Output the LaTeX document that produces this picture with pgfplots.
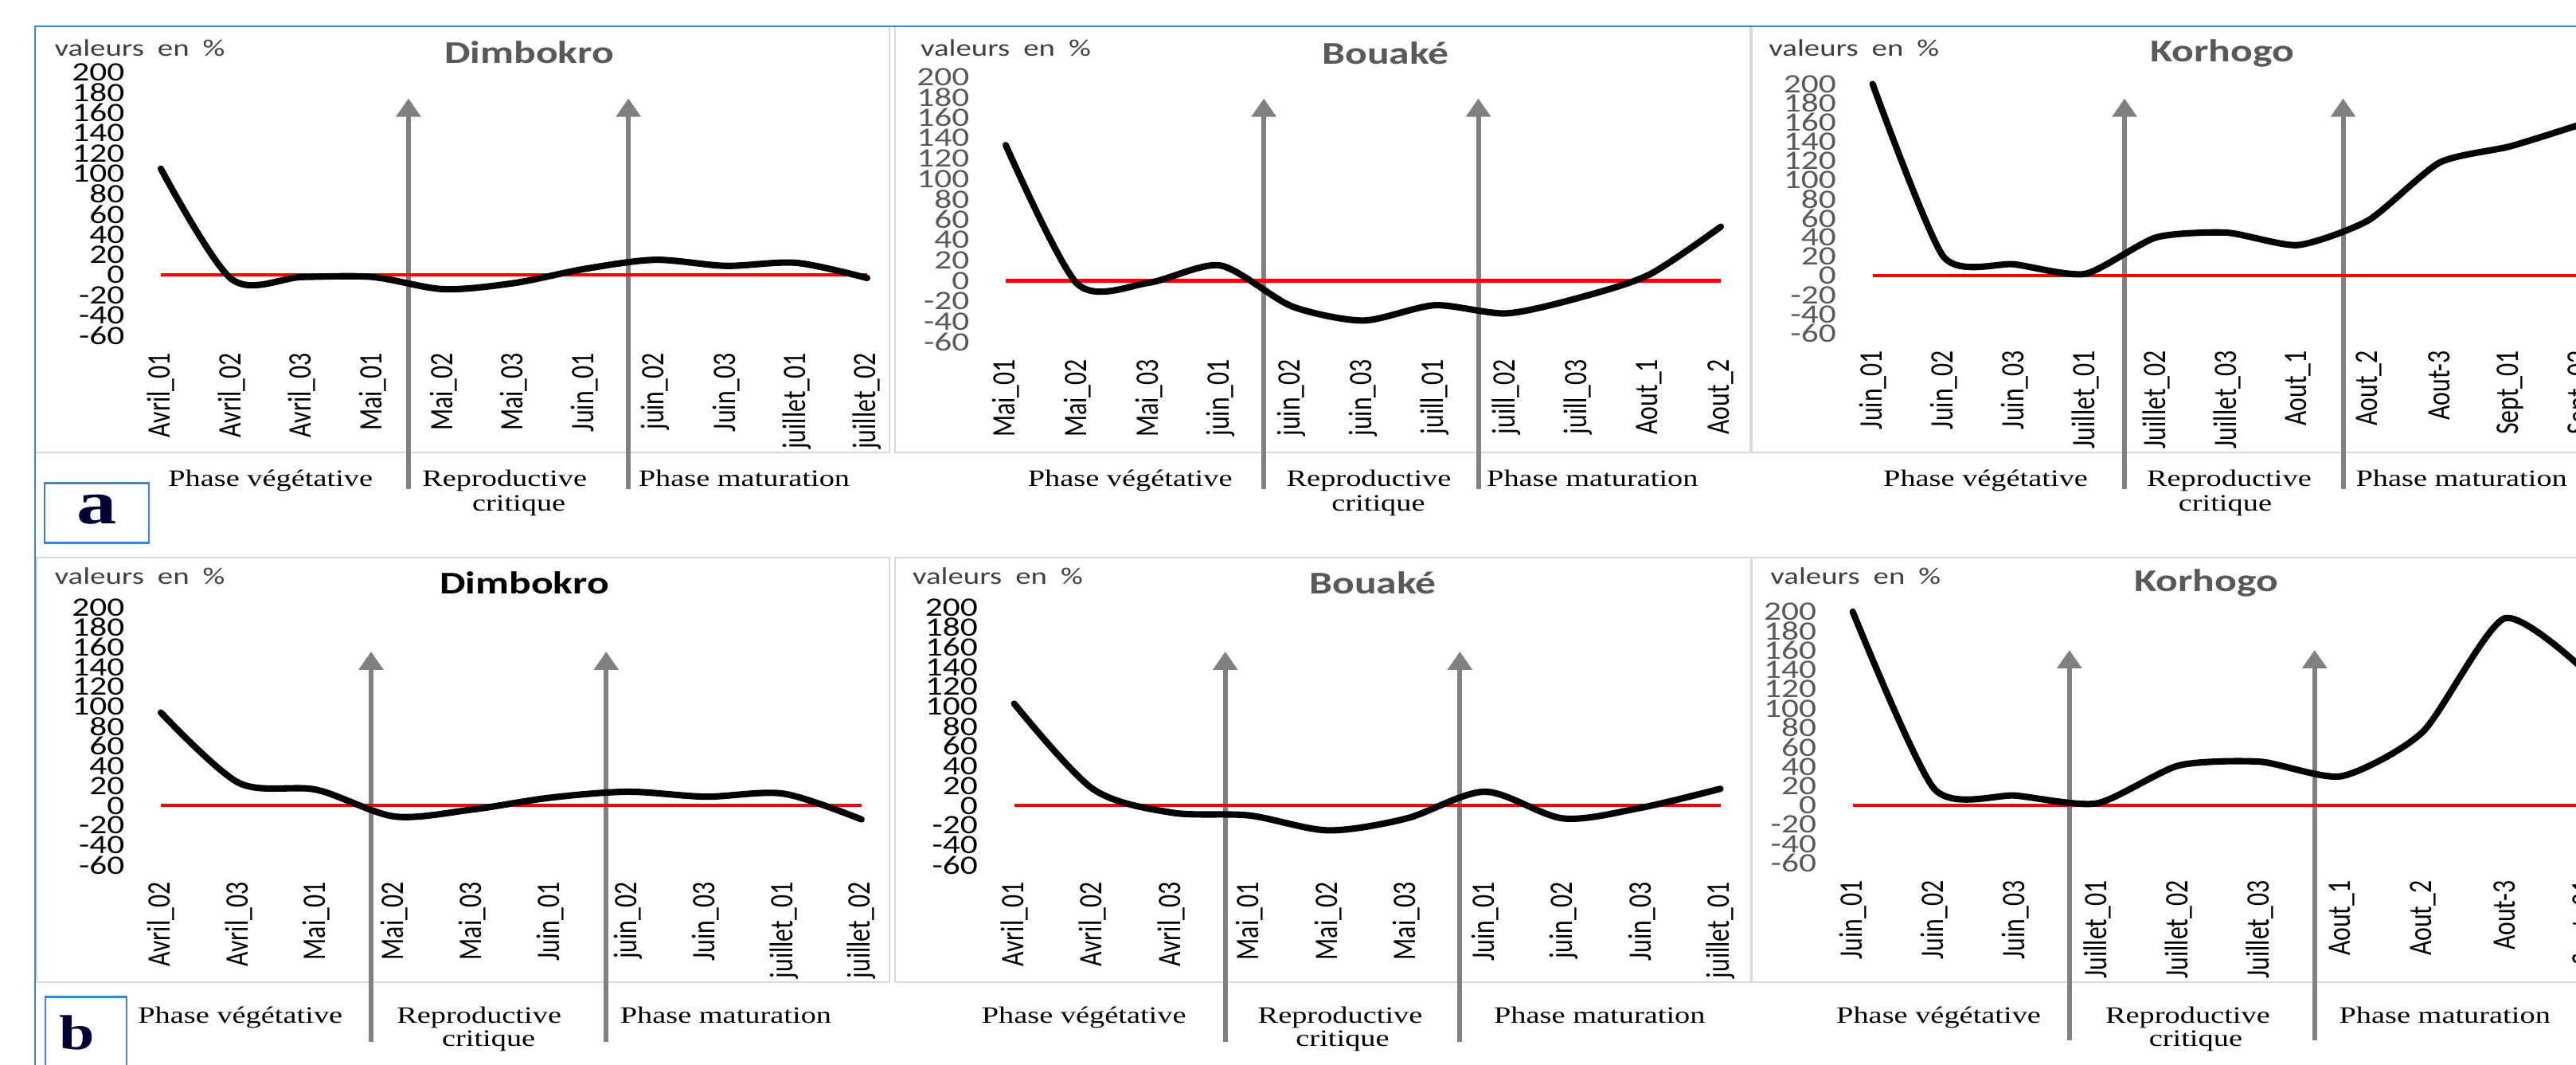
\documentclass[border=0pt]{standalone}
\usepackage{fontspec}
\setmainfont{Carlito}
\newfontfamily\calw[FakeStretch=1.3]{Carlito}
\newfontfamily\calr[FakeStretch=0.77]{Carlito}
\newfontfamily\timw[FakeStretch=1.3]{Liberation Serif}
\usepackage{pgfplots}
\pgfplotsset{compat=1.18}
\usetikzlibrary{arrows.meta}
\definecolor{tgray}{HTML}{595959}
\definecolor{lgray}{HTML}{404040}
\definecolor{boxgray}{HTML}{D9D9D9}
\definecolor{arrgray}{HTML}{808080}
\definecolor{frameblue}{HTML}{3A87CF}
\tikzset{
  phasearrow/.style={draw=arrgray, line width=1.7pt, -{Triangle[width=0.30cm,length=0.23cm]}},
  curve/.style={black, line width=2.3pt, smooth, tension=0.5, line join=round, line cap=round},
  zero/.style={red, line width=1.2pt},
}
\pgfplotsset{
  panel/.style={
    scale only axis, anchor=south west, clip=false,
    xmin=0, ymin=-60, ymax=200, enlargelimits=false,
    axis line style={draw=none}, tick style={draw=none},
    ytick={-60,-40,...,200},
    /pgf/number format/assume math mode=true,
    yticklabel style={anchor=east, inner sep=0pt, font=\calw\fontsize{9.5}{9.5}\selectfont},
    xticklabel style={rotate=90, anchor=east, inner sep=0pt, font=\calr\fontsize{11.75}{11.75}\selectfont, text=black},
    xticklabel shift=0.21cm, yticklabel shift=0.45cm,
  },
}
\newcommand{\tfont}{\calw\bfseries\fontsize{11.3}{11.3}\selectfont}
\newcommand{\vfont}{\calw\fontsize{8.5}{8.5}\selectfont}
\newcommand{\pfont}{\timw\fontsize{8.4}{8.4}\selectfont}
\begin{document}
\begin{tikzpicture}
\useasboundingbox (0,0) rectangle (32.35cm,13.36cm);
\clip (0,0) rectangle (32.35cm,13.36cm);
\fill[white] (0,0) rectangle (32.35cm,13.36cm);
\begin{scope}[shift={(0cm,13.36cm)}, x=0.01cm, y=-0.01cm]
  \begin{scope}[draw=boxgray, line width=0.6pt]
    \draw (44,33) rectangle (1118,568);
    \draw (1125,33) rectangle (2199,568);
    \draw (2201,33) rectangle (3300,568);
    \draw (46,700) rectangle (1118,1234);
    \draw (1125,700) rectangle (2200,1234);
    \draw (2201,700) rectangle (3300,1234);
  \end{scope}
  \draw[frameblue, line width=0.8pt] (44,1400) -- (44,33) -- (3300,33);
  \draw[frameblue, line width=0.7pt] (56,607) rectangle (187,682);
  \draw[frameblue, line width=0.7pt] (57,1252) rectangle (159,1345);
  \node[inner sep=0pt, font=\timw\bfseries\fontsize{22}{22}\selectfont, text=black!80!blue] at (121.5,640) {a};
  \node[inner sep=0pt, font=\timw\bfseries\fontsize{17.5}{17.5}\selectfont, text=black!80!blue] at (96.5,1297) {b};
\end{scope}

% ---------- A1 Dimbokro (top)
\begin{axis}[panel, at={(2.02cm,9.145cm)}, width=8.87cm, height=3.305cm, xmax=10,
  xtick={0,...,10},
  xticklabels={Avril\_01,Avril\_02,Avril\_03,Mai\_01,Mai\_02,Mai\_03,Juin\_01,juin\_02,Juin\_03,juillet\_01,juillet\_02},
  yticklabel style={text=black}]
  \draw[phasearrow] (axis cs:3.506,-211.1) -- (axis cs:3.506,174.4);
  \draw[phasearrow] (axis cs:6.62,-211.1) -- (axis cs:6.62,174.4);
  \addplot[zero] coordinates {(0,0) (10,0)};
  \addplot[curve] coordinates {(0,105) (1,-4) (2,-2) (3,-2) (4,-14) (5,-8) (6,6) (7,15) (8,9) (9,12) (10,-3)};
\end{axis}

% ---------- A2 Bouake (top)
\begin{axis}[panel, at={(12.63cm,9.067cm)}, width=8.98cm, height=3.33cm, xmax=10,
  xtick={0,...,10},
  xticklabels={Mai\_01,Mai\_02,Mai\_03,juin\_01,juin\_02,juin\_03,juill\_01,juill\_02,juill\_03,Aout\_1,Aout\_2},
  yticklabel style={text=tgray}]
  \draw[phasearrow] (axis cs:3.61,-203.9) -- (axis cs:3.61,178.7);
  \draw[phasearrow] (axis cs:6.61,-203.9) -- (axis cs:6.61,178.7);
  \addplot[zero] coordinates {(0,0) (10,0)};
  \addplot[curve, tension=0.45] coordinates {(0,133) (1,-3) (2,-2) (3,15) (4,-25) (5,-39) (6,-24) (7,-32) (8,-17) (9,6) (10,53)};
\end{axis}

% ---------- A3 Korhogo (top)
\begin{axis}[panel, at={(23.516cm,9.175cm)}, width=8.90cm, height=3.131cm, xmax=10,
  xtick={0,...,10},
  xticklabels={Juin\_01,Juin\_02,Juin\_03,Juillet\_01,Juillet\_02,Juillet\_03,Aout\_1,Aout\_2,Aout-3,Sept\_01,Sept\_02},
  yticklabel style={text=tgray}]
  \draw[phasearrow] (axis cs:3.555,-222) -- (axis cs:3.555,184.9);
  \draw[phasearrow] (axis cs:6.64,-222) -- (axis cs:6.64,184.9);
  \addplot[zero] coordinates {(0,0) (10,0)};
  \addplot[curve, tension=0.38] coordinates {(0,200) (1,20) (2,12) (3,2) (4,40) (5,45) (6,32) (7,58) (8,118) (9,135) (10,158)};
\end{axis}

% ---------- B1 Dimbokro (bottom)
\begin{axis}[panel, at={(2.02cm,2.501cm)}, width=8.80cm, height=3.231cm, xmax=9,
  xtick={0,...,9},
  xticklabels={Avril\_02,Avril\_03,Mai\_01,Mai\_02,Mai\_03,Juin\_01,juin\_02,Juin\_03,juillet\_01,juillet\_02},
  yticklabel style={text=black}]
  \draw[phasearrow] (axis cs:2.70,-238.4) -- (axis cs:2.70,155.6);
  \draw[phasearrow] (axis cs:5.72,-238.4) -- (axis cs:5.72,155.6);
  \addplot[zero] coordinates {(0,0) (9,0)};
  \addplot[curve] coordinates {(0,94) (1,23) (2,16) (3,-11) (4,-4) (5,8) (6,14) (7,9) (8,12) (9,-14)};
\end{axis}

% ---------- B2 Bouake (bottom)
\begin{axis}[panel, at={(12.736cm,2.501cm)}, width=8.87cm, height=3.231cm, xmax=9,
  xtick={0,...,9},
  xticklabels={Avril\_01,Avril\_02,Avril\_03,Mai\_01,Mai\_02,Mai\_03,Juin\_01,juin\_02,Juin\_03,juillet\_01},
  yticklabel style={text=black}]
  \draw[phasearrow] (axis cs:2.69,-238.4) -- (axis cs:2.69,155.6);
  \draw[phasearrow] (axis cs:5.68,-238.4) -- (axis cs:5.68,155.6);
  \addplot[zero] coordinates {(0,0) (9,0)};
  \addplot[curve] coordinates {(0,103) (1,17) (2,-7) (3,-10) (4,-25) (5,-13) (6,14) (7,-13) (8,-2) (9,17)};
\end{axis}

% ---------- B3 Korhogo (bottom)
\begin{axis}[panel, at={(23.267cm,2.522cm)}, width=9.207cm, height=3.159cm, xmax=9,
  xtick={0,...,9},
  xticklabels={Juin\_01,Juin\_02,Juin\_03,Juillet\_01,Juillet\_02,Juillet\_03,Aout\_1,Aout\_2,Aout-3,Sept\_01},
  yticklabel style={text=tgray}]
  \draw[phasearrow] (axis cs:2.66,-242.5) -- (axis cs:2.66,160.4);
  \draw[phasearrow] (axis cs:5.67,-242.5) -- (axis cs:5.67,160.4);
  \addplot[zero] coordinates {(0,0) (9,0)};
  \addplot[curve, tension=0.4] coordinates {(0,200) (1,17) (2,10) (3,2) (4,41) (5,45) (6,30) (7,76) (8,193) (9,138)};
\end{axis}

\begin{scope}[shift={(0cm,13.36cm)}, x=0.01cm, y=-0.01cm]
  % titles
  \node[font=\tfont, text=tgray, inner sep=0pt] at (665,66) {Dimbokro};
  \node[font=\tfont, text=tgray, inner sep=0pt] at (1741,67) {Bouaké};
  \node[font=\tfont, text=tgray, inner sep=0pt] at (2792,67) {Korhogo};
  \node[font=\tfont, text=black, inner sep=0pt] at (659,732) {Dimbokro};
  \node[font=\tfont, text=tgray, inner sep=0pt] at (1725,732) {Bouaké};
  \node[font=\tfont, text=tgray, inner sep=0pt] at (2772,732) {Korhogo};
  % y labels
  \foreach \x/\y in {68/60,1156/60,2222/60,68/724,1146/724,2224/724}
    \node[font=\vfont, text=lgray, anchor=west, inner sep=0pt] at (\x,\y) {valeurs\hspace{0.17cm}en\hspace{0.17cm}\%};
  % phase labels
  \begin{scope}[every node/.style={font=\pfont, anchor=base, inner sep=0pt, text=black}]
    \node at (340,611) {Phase végétative};
    \node at (634,611) {Reproductive};
    \node at (652,642) {critique};
    \node at (935,611) {Phase maturation};
    \node at (1420,611) {Phase végétative};
    \node at (1720,611) {Reproductive};
    \node at (1732,642) {critique};
    \node at (2001,611) {Phase maturation};
    \node at (2495,611) {Phase végétative};
    \node at (2801,611) {Reproductive};
    \node at (2796,642) {critique};
    \node at (3093,611) {Phase maturation};
    \node at (302,1285) {Phase végétative};
    \node at (602,1285) {Reproductive};
    \node at (614,1314) {critique};
    \node at (912,1285) {Phase maturation};
    \node at (1362,1285) {Phase végétative};
    \node at (1684,1285) {Reproductive};
    \node at (1687,1314) {critique};
    \node at (2010,1285) {Phase maturation};
    \node at (2436,1285) {Phase végétative};
    \node at (2749,1285) {Reproductive};
    \node at (2759,1314) {critique};
    \node at (3072,1285) {Phase maturation};
  \end{scope}
\end{scope}
\end{tikzpicture}
\end{document}
